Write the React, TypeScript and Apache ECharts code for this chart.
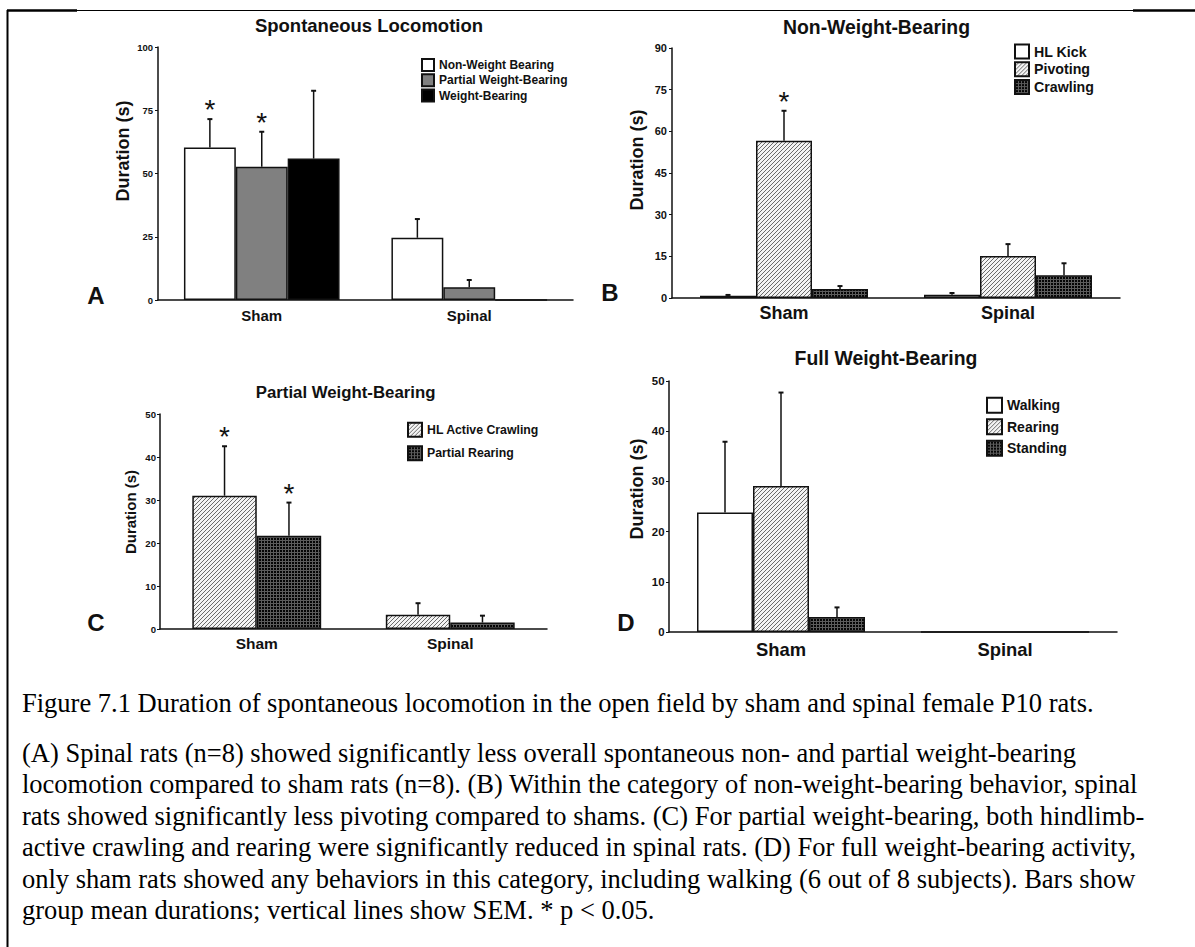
import React, { useEffect, useRef } from "react";
import * as echarts from "echarts";

const groups = ["Sham", "Spinal"];

// A – Spontaneous Locomotion
const aNonWeight = [60.3, 24.6];
const aNonWeightSem = [11.2, 7.4];
const aNonWeightSig = ["*", ""];
const aPartial = [52.7, 5.0];
const aPartialSem = [13.8, 2.9];
const aPartialSig = ["*", ""];
const aWeight = [55.9, 0];
const aWeightSem = [26.8, 0];
const aWeightSig = ["", ""];
const aTicks = [0, 25, 50, 75, 100];

// B – Non-Weight-Bearing
const bKick = [0.8, 1.2];
const bKickSem = [0.3, 0.6];
const bKickSig = ["", ""];
const bPivot = [56.6, 15.1];
const bPivotSem = [10.8, 4.3];
const bPivotSig = ["*", ""];
const bCrawl = [3.2, 8.2];
const bCrawlSem = [1.1, 4.3];
const bCrawlSig = ["", ""];
const bTicks = [0, 15, 30, 45, 60, 75, 90];

// C – Partial Weight-Bearing
const cActive = [31.0, 3.3];
const cActiveSem = [11.5, 2.7];
const cActiveSig = ["*", ""];
const cRearing = [21.7, 1.5];
const cRearingSem = [7.7, 1.6];
const cRearingSig = ["*", ""];
const cTicks = [0, 10, 20, 30, 40, 50];

// D – Full Weight-Bearing
const dWalk = [23.8, 0];
const dWalkSem = [14.1, 0];
const dWalkSig = ["", ""];
const dRear = [29.1, 0];
const dRearSem = [18.6, 0];
const dRearSig = ["", ""];
const dStand = [3.0, 0];
const dStandSem = [1.9, 0];
const dStandSig = ["", ""];
const dTicks = [0, 10, 20, 30, 40, 50];

const captionLines = [
  "(A) Spinal rats (n=8) showed significantly less overall spontaneous non- and partial weight-bearing",
  "locomotion compared to sham rats (n=8). (B) Within the category of non-weight-bearing behavior, spinal",
  "rats showed significantly less pivoting compared to shams. (C) For partial weight-bearing, both hindlimb-",
  "active crawling and rearing were significantly reduced in spinal rats. (D) For full weight-bearing activity,",
  "only sham rats showed any behaviors in this category, including walking (6 out of 8 subjects). Bars show",
  "group mean durations; vertical lines show SEM. * p < 0.05.",
];
const captionTitle =
  "Figure 7.1 Duration of spontaneous locomotion in the open field by sham and spinal female P10 rats.";

const SANS = '"Liberation Sans", Arial, Helvetica, sans-serif';
const SERIF = '"Liberation Serif", "Times New Roman", serif';
const INK = "#111";

function hatchPattern() {
  const c = document.createElement("canvas");
  c.width = 4;
  c.height = 4;
  const g = c.getContext("2d")!;
  g.fillStyle = "#f3f3f3";
  g.fillRect(0, 0, 4, 4);
  g.fillStyle = "#6a6a6a";
  for (let i = 0; i < 4; i++) g.fillRect(i, 3 - i, 1, 1);
  return { image: c, repeat: "repeat", imageWidth: 4, imageHeight: 4 };
}

function meshPattern() {
  const c = document.createElement("canvas");
  c.width = 3;
  c.height = 3;
  const g = c.getContext("2d")!;
  g.fillStyle = "#050505";
  g.fillRect(0, 0, 3, 3);
  g.fillStyle = "#5c5c5c";
  g.fillRect(0, 0, 3, 1);
  g.fillRect(0, 0, 1, 3);
  return { image: c, repeat: "repeat", imageWidth: 3, imageHeight: 3 };
}

type BarDef = { name: string; values: number[]; sem: number[]; sig: string[]; fill: any };
type PanelDef = {
  letter: string;
  letterPos: [number, number];
  title: string;
  titlePos: [number, number];
  titleSize: number;
  grid: { left: number; top: number; width: number; height: number };
  ticks: number[];
  tickSize: number;
  tickMargin: number;
  catSize: number;
  catMargin: number;
  yName: [number, number, number];
  gap: number;
  legend: { left: number; firstY: number; box: number; step: number; font: number };
  starSize: number;
  bars: BarDef[];
};

export default function App() {
  const ref = useRef<HTMLDivElement>(null);

  useEffect(() => {
    if (!ref.current) return;
    const chart = echarts.init(ref.current, undefined, { renderer: "svg" });
    const hatch = hatchPattern();
    const mesh = meshPattern();

    const panels: PanelDef[] = [
      {
        letter: "A",
        letterPos: [96, 295],
        title: "Spontaneous Locomotion",
        titlePos: [369, 25],
        titleSize: 18.5,
        grid: { left: 158, top: 47, width: 415, height: 253 },
        ticks: aTicks,
        tickSize: 9.5,
        tickMargin: 5,
        catSize: 15,
        catMargin: 8,
        yName: [122.5, 151, 18],
        gap: 0.25,
        legend: { left: 421, firstY: 65, box: 12, step: 15.5, font: 12 },
        starSize: 28,
        bars: [
          { name: "Non-Weight Bearing", values: aNonWeight, sem: aNonWeightSem, sig: aNonWeightSig, fill: "#ffffff" },
          { name: "Partial Weight-Bearing", values: aPartial, sem: aPartialSem, sig: aPartialSig, fill: "#808080" },
          { name: "Weight-Bearing", values: aWeight, sem: aWeightSem, sig: aWeightSig, fill: "#000000" },
        ],
      },
      {
        letter: "B",
        letterPos: [610, 292],
        title: "Non-Weight-Bearing",
        titlePos: [876.5, 27],
        titleSize: 19.4,
        grid: { left: 672, top: 48, width: 448, height: 250 },
        ticks: bTicks,
        tickSize: 11,
        tickMargin: 5,
        catSize: 18,
        catMargin: 6,
        yName: [637, 160, 18],
        gap: 0.25,
        legend: { left: 1014, firstY: 52, box: 14, step: 18.5, font: 14.2 },
        starSize: 28,
        bars: [
          { name: "HL Kick", values: bKick, sem: bKickSem, sig: bKickSig, fill: "#ffffff" },
          { name: "Pivoting", values: bPivot, sem: bPivotSem, sig: bPivotSig, fill: hatch },
          { name: "Crawling", values: bCrawl, sem: bCrawlSem, sig: bCrawlSig, fill: mesh },
        ],
      },
      {
        letter: "C",
        letterPos: [96, 622],
        title: "Partial Weight-Bearing",
        titlePos: [345.6, 392],
        titleSize: 16.8,
        grid: { left: 160, top: 414, width: 387, height: 215 },
        ticks: cTicks,
        tickSize: 9.6,
        tickMargin: 4,
        catSize: 15.5,
        catMargin: 6,
        yName: [130, 512, 15],
        gap: 0.334,
        legend: { left: 407, firstY: 429, box: 14, step: 22, font: 12.3 },
        starSize: 28,
        bars: [
          { name: "HL Active Crawling", values: cActive, sem: cActiveSem, sig: cActiveSig, fill: hatch },
          { name: "Partial Rearing", values: cRearing, sem: cRearingSem, sig: cRearingSig, fill: mesh },
        ],
      },
      {
        letter: "D",
        letterPos: [626, 622],
        title: "Full Weight-Bearing",
        titlePos: [886, 358],
        titleSize: 19.4,
        grid: { left: 669, top: 381, width: 448, height: 251 },
        ticks: dTicks,
        tickSize: 11.4,
        tickMargin: 4.5,
        catSize: 18.4,
        catMargin: 8,
        yName: [637, 489, 18],
        gap: 0.25,
        legend: { left: 986, firstY: 405, box: 15, step: 21, font: 14 },
        starSize: 28,
        bars: [
          { name: "Walking", values: dWalk, sem: dWalkSem, sig: dWalkSig, fill: "#ffffff" },
          { name: "Rearing", values: dRear, sem: dRearSem, sig: dRearSig, fill: hatch },
          { name: "Standing", values: dStand, sem: dStandSem, sig: dStandSig, fill: mesh },
        ],
      },
    ];

    const series: any[] = [];
    panels.forEach((p, k) => {
      const n = p.bars.length;
      p.bars.forEach((b) => {
        series.push({
          type: "bar",
          name: b.name,
          xAxisIndex: k,
          yAxisIndex: k,
          data: b.values,
          barGap: "0%",
          barCategoryGap: `${p.gap * 100}%`,
          itemStyle: { color: b.fill, borderColor: INK, borderWidth: 1.5 },
          silent: true,
        });
      });
      // SEM whiskers (upper half only) and significance marks
      p.bars.forEach((b, j) => {
        series.push({
          type: "custom",
          xAxisIndex: k,
          yAxisIndex: k,
          z: 5,
          silent: true,
          encode: { x: 0, y: 1 },
          data: groups.map((_, i) => [i, b.values[i], b.sem[i]]),
          renderItem: (params: any, api: any) => {
            const cat = api.value(0);
            const v = api.value(1);
            const e = api.value(2);
            const band = api.size([1, 0])[0];
            const groupW = band * (1 - p.gap);
            const bw = groupW / n;
            const base = api.coord([cat, v]);
            const top = api.coord([cat, v + e]);
            const x = base[0] - groupW / 2 + bw * (j + 0.5);
            const children: any[] = [];
            if (e > 0) {
              children.push({
                type: "line",
                shape: { x1: x, y1: base[1], x2: x, y2: top[1] },
                style: { stroke: INK, lineWidth: 1.5 },
              });
              children.push({
                type: "line",
                shape: { x1: x - 2.5, y1: top[1], x2: x + 2.5, y2: top[1] },
                style: { stroke: INK, lineWidth: 2 },
              });
            }
            const mark = b.sig[params.dataIndex];
            if (mark) {
              children.push({
                type: "text",
                x,
                y: top[1] - 9.5,
                style: {
                  text: mark,
                  font: `${p.starSize}px ${SANS}`,
                  textAlign: "center",
                  textVerticalAlign: "middle",
                  fill: INK,
                },
              });
            }
            return { type: "group", children };
          },
        });
      });
    });

    const graphics: any[] = [
      // figure frame
      { type: "line", shape: { x1: 7.5, y1: 10, x2: 7.5, y2: 947 }, style: { stroke: "#000", lineWidth: 2 } },
      { type: "line", shape: { x1: 7, y1: 10.5, x2: 1195, y2: 10.5 }, style: { stroke: "#000", lineWidth: 1 } },
      { type: "line", shape: { x1: 7, y1: 10.5, x2: 77, y2: 10.5 }, style: { stroke: "#000", lineWidth: 2.5 } },
      { type: "line", shape: { x1: 1133, y1: 10.5, x2: 1195, y2: 10.5 }, style: { stroke: "#000", lineWidth: 2.5 } },
    ];
    panels.forEach((p) => {
      graphics.push({
        type: "text",
        x: p.letterPos[0],
        y: p.letterPos[1],
        style: { text: p.letter, font: `bold 24px ${SANS}`, textAlign: "center", textVerticalAlign: "middle", fill: INK },
      });
      graphics.push({
        type: "text",
        x: p.yName[0],
        y: p.yName[1],
        rotation: Math.PI / 2,
        style: {
          text: "Duration (s)",
          font: `bold ${p.yName[2]}px ${SANS}`,
          textAlign: "center",
          textVerticalAlign: "middle",
          fill: INK,
        },
      });
    });
    graphics.push({
      type: "text",
      x: 22,
      y: 703,
      style: { text: captionTitle, font: `26.5px ${SERIF}`, textAlign: "left", textVerticalAlign: "middle", fill: "#000" },
    });
    captionLines.forEach((line, i) => {
      graphics.push({
        type: "text",
        x: 22,
        y: 753 + i * 31.4,
        style: { text: line, font: `26.5px ${SERIF}`, textAlign: "left", textVerticalAlign: "middle", fill: "#000" },
      });
    });

    const option: any = {
      animation: false,
      backgroundColor: "#ffffff",
      title: panels.map((p) => ({
        text: p.title,
        left: p.titlePos[0],
        top: p.titlePos[1],
        textAlign: "center",
        textVerticalAlign: "middle",
        padding: 0,
        textStyle: { fontFamily: SANS, fontWeight: "bold", fontSize: p.titleSize, color: INK },
      })),
      legend: panels.map((p) => {
        const rowH = Math.max(p.legend.box, p.legend.font * 1.18);
        return {
          data: p.bars.map((b) => b.name),
          orient: "vertical",
          left: p.legend.left,
          top: p.legend.firstY - rowH / 2,
          icon: "rect",
          itemWidth: p.legend.box,
          itemHeight: p.legend.box,
          itemGap: p.legend.step - rowH,
          padding: 0,
          selectedMode: false,
          textStyle: {
            fontFamily: SANS,
            fontWeight: "bold",
            fontSize: p.legend.font,
            color: INK,
          },
        };
      }),
      grid: panels.map((p) => ({ ...p.grid, containLabel: false })),
      xAxis: panels.map((p, k) => ({
        type: "category",
        gridIndex: k,
        data: groups,
        axisLine: { show: true, lineStyle: { color: INK, width: 1.5 } },
        axisTick: { show: false },
        axisLabel: { color: INK, fontFamily: SANS, fontWeight: "bold", fontSize: p.catSize, margin: p.catMargin },
        splitLine: { show: false },
      })),
      yAxis: panels.map((p, k) => ({
        type: "value",
        gridIndex: k,
        min: p.ticks[0],
        max: p.ticks[p.ticks.length - 1],
        interval: p.ticks[1] - p.ticks[0],
        axisLine: { show: true, lineStyle: { color: INK, width: 1.5 } },
        axisTick: { show: true, length: 3, lineStyle: { color: INK, width: 1 } },
        splitLine: { show: false },
        axisLabel: { color: INK, fontFamily: SANS, fontWeight: "bold", fontSize: p.tickSize, margin: p.tickMargin },
      })),
      series,
      graphic: graphics,
    };

    chart.setOption(option);
    return () => chart.dispose();
  }, []);

  return (
    <div
      ref={ref}
      style={{ position: "absolute", left: 0, top: 0, width: 1195, height: 947, background: "#fff" }}
    />
  );
}
